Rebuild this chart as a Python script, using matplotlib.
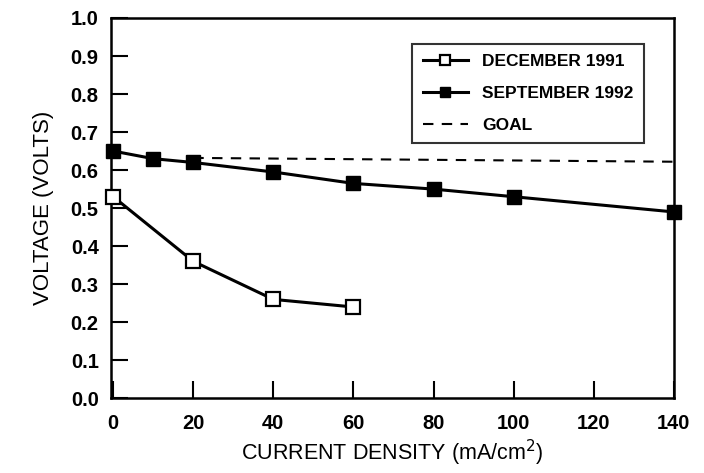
import matplotlib
matplotlib.use('Agg')
import matplotlib.pyplot as plt

plt.rcParams['font.family'] = ['Liberation Sans', 'DejaVu Sans']

# data
dec91_x = [0, 20, 40, 60]
dec91_v = [0.53, 0.36, 0.26, 0.24]

sep92_x = [0, 10, 20, 40, 60, 80, 100, 140]
sep92_v = [0.65, 0.63, 0.62, 0.595, 0.565, 0.55, 0.53, 0.49]

goal_x = [20, 140]
goal_v = [0.632, 0.622]

x_ticks = [0, 20, 40, 60, 80, 100, 120, 140]
y_ticks = [0.0, 0.1, 0.2, 0.3, 0.4, 0.5, 0.6, 0.7, 0.8, 0.9, 1.0]

fig = plt.figure(figsize=(7.04, 4.73), dpi=100)
ax = fig.add_axes([0.158, 0.158, 0.799, 0.804])

ax.plot(dec91_x, dec91_v, color='black', lw=2.2, marker='s', ms=10,
        mfc='white', mec='black', mew=1.6, label='DECEMBER 1991', clip_on=False, zorder=3)
ax.plot(sep92_x, sep92_v, color='black', lw=2.2, marker='s', ms=10,
        mfc='black', mec='black', label='SEPTEMBER 1992', clip_on=False, zorder=3)
ax.plot(goal_x, goal_v, color='black', lw=1.5, ls=(0, (5, 4)), label='GOAL')

ax.set_xlim(-0.5, 140)
ax.set_ylim(0, 1.0)
ax.set_xticks(x_ticks)
ax.set_yticks(y_ticks)
ax.set_yticklabels([f'{v:.1f}' for v in y_ticks])

ax.tick_params(direction='in', length=12, width=1.5, labelsize=14.5)
ax.tick_params(axis='x', pad=11)
ax.tick_params(axis='y', pad=9)
for lbl in ax.get_xticklabels() + ax.get_yticklabels():
    lbl.set_fontweight('bold')
for s in ax.spines.values():
    s.set_linewidth(1.8)

ax.set_xlabel('CURRENT DENSITY (mA/cm$^{2}$)', fontsize=15.5, labelpad=4)
ax.set_ylabel('VOLTAGE (VOLTS)', fontsize=16, labelpad=12)

leg = ax.legend(loc='upper left', bbox_to_anchor=(0.52, 0.955),
                prop={'weight': 'bold', 'size': 12.5}, frameon=True, fancybox=False,
                edgecolor='black', handlelength=2.6, labelspacing=0.95,
                borderpad=0.6, markerscale=0.7)
leg.get_frame().set_linewidth(1.5)

fig.savefig('out.png', dpi=100)
